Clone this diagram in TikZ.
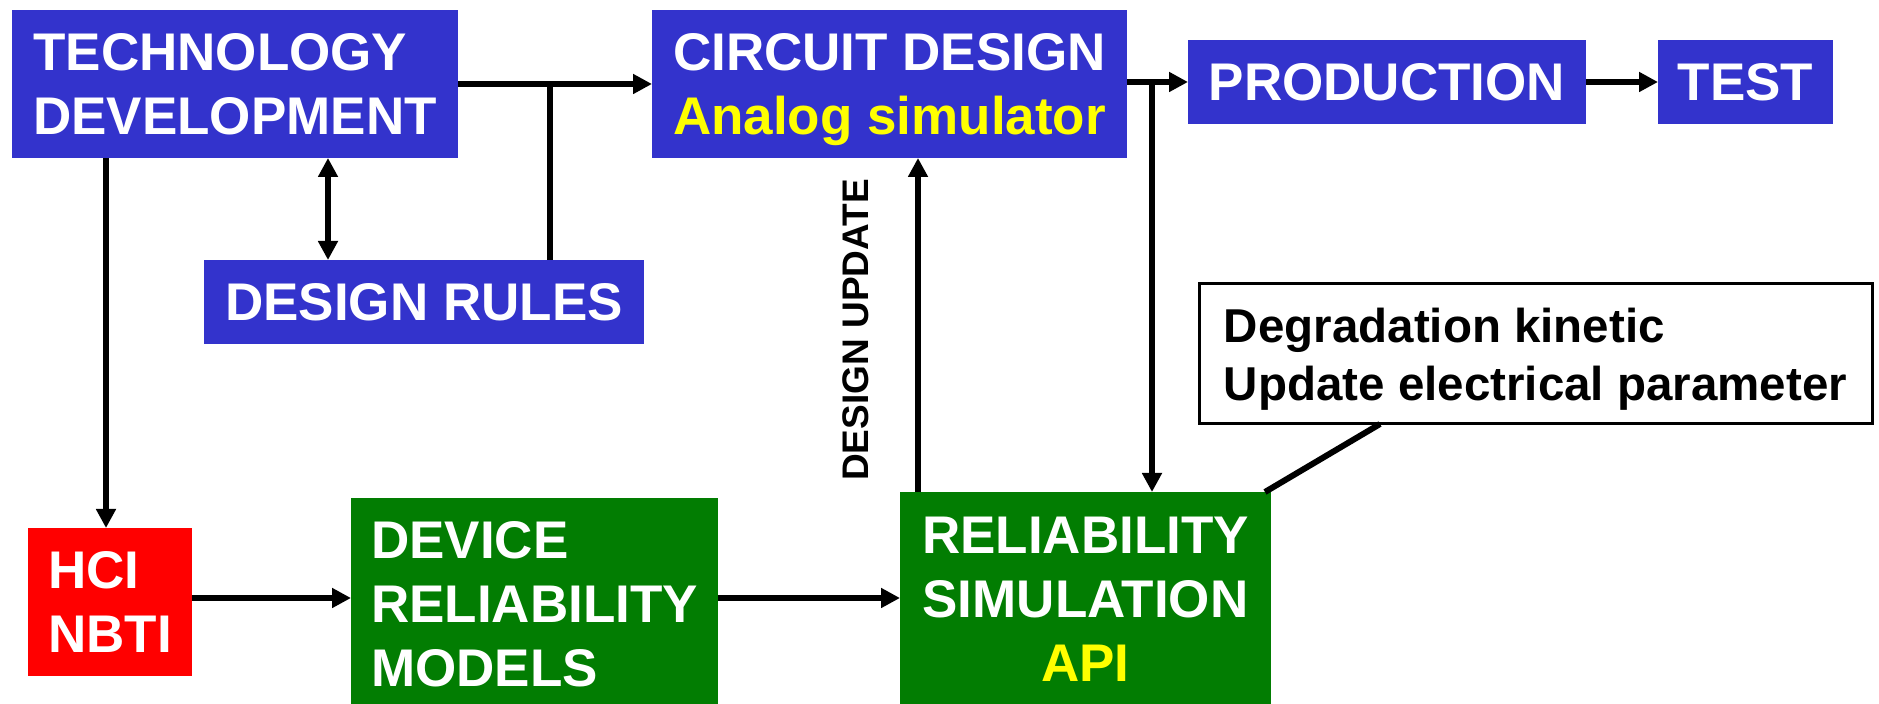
\documentclass[tikz,border=0pt]{standalone}
\usepackage{fontspec}
\setmainfont{Liberation Sans}
\usetikzlibrary{arrows.meta}
\definecolor{myblue}{RGB}{51,51,204}
\definecolor{mygreen}{RGB}{2,125,2}
\definecolor{myred}{RGB}{255,0,0}
\definecolor{myyellow}{RGB}{255,255,0}
\begin{document}
\begin{tikzpicture}[x=0.5pt,y=-0.5pt,
  box/.style={inner sep=0pt, outer sep=0pt, text=white, font=\bfseries\fontsize{26.5}{32}\selectfont},
  bluebox/.style={box, fill=myblue},
  greenbox/.style={box, fill=mygreen},
  redbox/.style={box, fill=myred},
  notebox/.style={inner sep=0pt, outer sep=0pt, draw=black, line width=1.5pt, fill=white, text=black, font=\bfseries\fontsize{23.75}{29}\selectfont},
  conn/.style={line width=3pt},
  arr/.style={conn, -{Triangle[length=9.5pt,width=9.5pt]}},
  darr/.style={conn, {Triangle[length=9.5pt,width=9.5pt]}-{Triangle[length=9.5pt,width=9.5pt]}},
]
\path[use as bounding box] (0,0) rectangle (1879,704);

% boxes
\node[bluebox, minimum width=223pt, minimum height=74pt, align=left] (td) at (235,84) {TECHNOLOGY\\DEVELOPMENT};
\node[bluebox, minimum width=220pt, minimum height=42pt] (dr) at (424,302) {DESIGN RULES};
\node[bluebox, minimum width=237.5pt, minimum height=74pt, align=center] (cd) at (889.5,84) {CIRCUIT DESIGN\\\textcolor{myyellow}{\smash{Analog simulator}}};
\node[bluebox, minimum width=199pt, minimum height=42pt] (prod) at (1387,82) {PRODUCTION};
\node[bluebox, minimum width=87.5pt, minimum height=42pt] (test) at (1745.5,82) {TEST};
\node[redbox, minimum width=82pt, minimum height=74pt, align=left] (hci) at (110,602) {HCI\\NBTI};
\node[greenbox, minimum width=183.5pt, minimum height=106pt, align=left] (drm) at (534.5,604) {DEVICE\\RELIABILITY\\MODELS};
\node[greenbox, minimum width=185.5pt, minimum height=107pt, align=center] (rs) at (1085.5,599) {RELIABILITY\\SIMULATION\\\textcolor{myyellow}{API}};
\node[notebox, minimum width=336.5pt, minimum height=70pt, align=left] (note) at (1535.5,354) {Degradation kinetic\\\smash{Update electrical parameter}};
\node[inner sep=0pt, rotate=90, font=\bfseries\fontsize{18.5}{22}\selectfont] (du) at (856,330) {DESIGN UPDATE};

% helper coordinates
\coordinate (j1) at (550,84);
\coordinate (dx) at (328,0);
\coordinate (hx) at (106,0);
\coordinate (ly) at (0,598);
\coordinate (j2) at (1152,82);
\coordinate (ux) at (918,0);
\coordinate (nx) at (1380,0);
\coordinate (rc) at (1265,492);

% connectors
\draw[arr] (td.east) -- (cd.west);
\draw[conn] (dr.north -| j1) -- (j1);
\draw[darr] (td.south -| dx) -- (dr.north -| dx);
\draw[arr] (td.south -| hx) -- (hci.north -| hx);
\draw[arr] (hci.east |- ly) -- (drm.west |- ly);
\draw[arr] (drm.east |- ly) -- (rs.west |- ly);
\draw[arr] (cd.east |- prod.west) -- (prod.west);
\draw[arr] (prod.east) -- (test.west);
\draw[arr] (j2) -- (rs.north -| j2);
\draw[arr] (rs.north -| ux) -- (cd.south -| ux);
\draw[conn] (note.south -| nx) -- (rc);
\end{tikzpicture}
\end{document}
